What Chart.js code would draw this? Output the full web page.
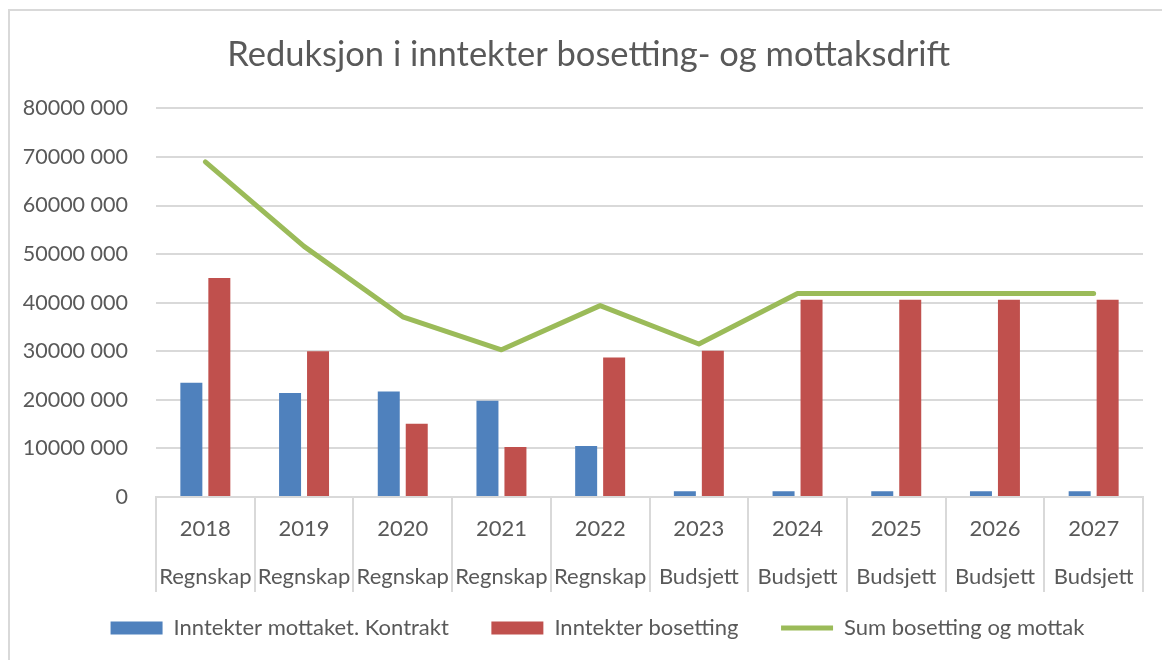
<!DOCTYPE html>
<html lang="no">
  <head>
    <meta charset="UTF-8" />
    <title>Reduksjon i inntekter</title>
    <script src="https://cdn.jsdelivr.net/npm/chart.js"></script>
    <style>
      html, body { margin: 0; padding: 0; background: #fff; }
      #wrap { position: relative; width: 1162px; height: 660px; }
      /* ramme oppe og til venstre, som i originalen */
      #ramme {
        position: absolute; left: 8px; top: 9px; right: 0; bottom: 0;
        border-left: 2px solid #d9d9d9; border-top: 2px solid #d9d9d9;
        pointer-events: none;
      }
      canvas { position: absolute; left: 0; top: 0; }
    </style>
  </head>
  <body>
    <div id="wrap">
      <canvas id="graf" width="1162" height="660"></canvas>
      <div id="ramme"></div>
    </div>

    <script>
      const aar = ["2018", "2019", "2020", "2021", "2022", "2023", "2024", "2025", "2026", "2027"];
      const type = ["Regnskap", "Regnskap", "Regnskap", "Regnskap", "Regnskap",
                    "Budsjett", "Budsjett", "Budsjett", "Budsjett", "Budsjett"];
      const mottak = [23500000, 21400000, 21700000, 19800000, 10500000,
                      1200000, 1200000, 1200000, 1200000, 1200000];
      const bosetting = [45100000, 30000000, 15100000, 10300000, 28700000,
                         30100000, 40600000, 40600000, 40600000, 40600000];
      const sum = [69000000, 51600000, 37100000, 30300000, 39400000,
                   31500000, 41900000, 41900000, 41900000, 41900000];

      const grå = "#595959";
      const font = "Lato, 'Open Sans', sans-serif";

      function formater(v) {
        if (v === 0) return "0";
        return String(v).replace(/(\d{3})$/, " $1");
      }

      // flytter legenden litt mot høyre, som i originalen
      const flyttLegend = {
        id: "flyttLegend",
        afterLayout(chart) {
          chart.legend.left += 44;
          chart.legend.right += 0;
        },
      };

      new Chart(document.getElementById("graf"), {
        type: "bar",
        data: {
          labels: aar.map((a, i) => [a, type[i]]),
          datasets: [
            {
              type: "line",
              label: "Sum bosetting og mottak",
              data: sum,
              borderColor: "#9BBB59",
              backgroundColor: "#9BBB59",
              borderWidth: 5,
              borderCapStyle: "round",
              borderJoinStyle: "round",
              pointRadius: 0,
              tension: 0,
              order: 0,
              pointStyle: "line",
            },
            {
              label: "Inntekter mottaket. Kontrakt    ",
              data: mottak,
              backgroundColor: "#4F81BD",
              borderWidth: 0,
              order: 1,
              pointStyle: "rect",
            },
            {
              label: "Inntekter bosetting    ",
              data: bosetting,
              backgroundColor: "#C0504D",
              borderWidth: 0,
              order: 1,
              pointStyle: "rect",
            },
          ],
        },
        options: {
          responsive: false,
          animation: false,
          devicePixelRatio: 1,
          datasets: { bar: { categoryPercentage: 0.567, barPercentage: 0.786 } },
          layout: { padding: { left: 8, right: 19, top: 22, bottom: 11 } },
          plugins: {
            title: {
              display: true,
              // innledende mellomrom flytter tittelen litt mot høyre
              text: "   Reduksjon i inntekter bosetting- og mottaksdrift",
              color: grå,
              font: { family: font, size: 34.5, weight: "normal" },
              padding: { top: 12, bottom: 33 },
            },
            legend: {
              position: "bottom",
              labels: {
                sort: (a, b) => (a.datasetIndex === 0 ? 1 : 0) - (b.datasetIndex === 0 ? 1 : 0),
                usePointStyle: true,
                pointStyleWidth: 52,
                boxHeight: 13,
                padding: 20,
                color: grå,
                font: { family: font, size: 22 },
              },
            },
            tooltip: { enabled: false },
          },
          scales: {
            x: {
              grid: {
                color: "#d9d9d9",
                lineWidth: 2,
                drawOnChartArea: false,
                tickLength: 95,
                offset: true,
              },
              border: { color: "#d9d9d9", width: 2 },
              ticks: {
                color: grå,
                font: { family: font, size: 22, lineHeight: 2.18 },
                padding: -87,
                maxRotation: 0,
                autoSkip: false,
              },
              afterFit: (s) => { s.height = 100; },
            },
            y: {
              min: 0,
              max: 80000000,
              grid: { color: "#d9d9d9", lineWidth: 2, drawTicks: false },
              border: { display: false },
              ticks: {
                stepSize: 10000000,
                color: grå,
                padding: 28,
                font: { family: font, size: 21.5 },
                callback: (v) => formater(v),
              },
              afterFit: (s) => { s.width = 148; },
            },
          },
        },
        plugins: [flyttLegend],
      });
    </script>
  </body>
</html>
